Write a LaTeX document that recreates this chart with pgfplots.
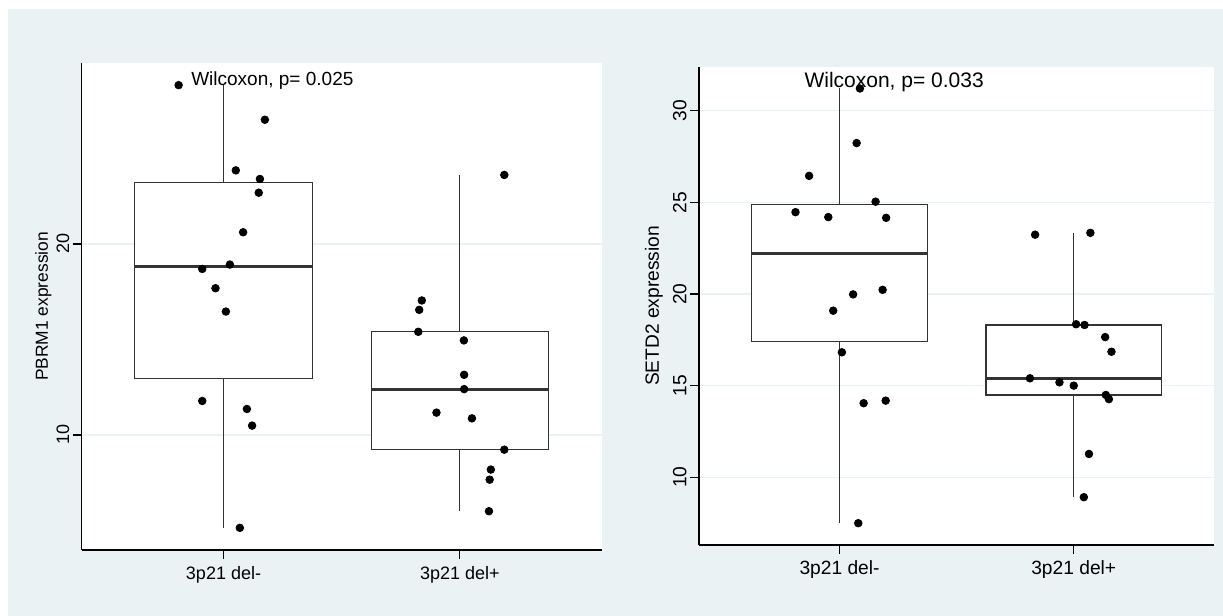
\documentclass[border=0pt]{standalone}
\usepackage{pgfplots}
\pgfplotsset{compat=1.18}
\usepackage{fontspec}
\setmainfont{Liberation Sans}

\definecolor{panelbg}{RGB}{235,242,243}
\definecolor{gridc}{RGB}{235,242,243}
\definecolor{boxc}{RGB}{51,51,51}

% jittered observations: x = group position + jitter, y = expression
\pgfplotstableread{
x      y
0.810  28.31
1.175  26.50
1.052  23.85
1.154  23.40
1.149  22.68
1.083  20.61
1.027  18.92
0.910  18.69
0.966  17.68
1.010  16.46
0.910  11.78
1.099  11.36
1.121  10.49
1.069  5.14
2.188  23.61
1.839  17.04
1.828  16.55
1.824  15.40
2.017  14.95
2.018  13.15
2.018  12.40
1.901  11.17
2.051  10.87
2.188  9.23
2.131  8.19
2.126  7.66
2.123  6.01
}\pbrmpts

\pgfplotstableread{
x      y
1.087  31.22
1.073  28.24
0.870  26.45
1.154  25.04
0.812  24.47
0.952  24.20
1.199  24.16
1.184  20.23
1.058  19.98
0.973  19.09
1.010  16.82
1.103  14.04
1.197  14.18
1.080  7.49
1.835  23.24
2.071  23.34
2.010  18.35
2.046  18.31
2.134  17.65
2.161  16.85
1.813  15.40
1.939  15.18
2.000  15.00
2.137  14.49
2.150  14.26
2.065  11.27
2.043  8.91
}\setdpts

\pgfplotsset{
  panel/.style={
    scale only axis,
    anchor=south west,
    axis lines*=left,
    axis line style={-, black, line width=0.75pt},
    axis background/.style={fill=white},
    xmin=0.4, xmax=2.6,
    xtick={1,2},
    xticklabels={3p21 del-, 3p21 del+},
    ymajorgrids,
    grid style={gridc, line width=0.6pt},
    tick align=outside,
    major tick length=4.5pt,
    tick style={black, line width=0.6pt},
    /pgf/number format/assume math mode=true,
    yticklabel style={rotate=90, anchor=south, inner sep=1.5pt},
    clip=false,
  },
  edge/.style={draw=boxc, line width=0.6pt, mark=none, line join=miter},
  pts/.style={only marks, mark=*, mark size=1.9pt, black},
}

% one box-and-whisker: #1 position, #2 lower whisker, #3 Q1, #4 median, #5 Q3, #6 upper whisker
\newcommand{\boxwhisker}[6]{%
  \addplot[edge] coordinates {(#1,#2) (#1,#3)};
  \addplot[edge] coordinates {(#1,#5) (#1,#6)};
  \addplot[edge, fill=white] coordinates
    {(#1-0.375,#3) (#1+0.375,#3) (#1+0.375,#5) (#1-0.375,#5) (#1-0.375,#3)} -- cycle;
  \addplot[edge, line width=1.45pt] coordinates {(#1-0.375,#4) (#1+0.375,#4)};
}

\begin{document}
\begin{tikzpicture}
\path[use as bounding box, fill=white] (0,0) rectangle (611.5pt,308pt);
\fill[panelbg] (4pt,0) rectangle (611.5pt,303.5pt);

% PBRM1
\begin{axis}[panel,
  at={(40.85pt,33pt)}, width=260pt, height=243.5pt,
  ymin=3.98, ymax=29.47,
  ytick={10,20},
  ticklabel style={font=\fontsize{9}{10}\selectfont},
  ylabel={PBRM1 expression},
  ylabel shift=-2.5pt,
  ylabel style={font=\fontsize{8.7}{10}\selectfont},
]
\boxwhisker{1}{5.14}{12.95}{18.80}{23.22}{28.31}
\boxwhisker{2}{6.01}{9.23}{12.40}{15.40}{23.61}
\addplot[pts] table[x=x, y=y] {\pbrmpts};
\node[anchor=west, inner sep=0pt, font=\fontsize{9.5}{11}\selectfont]
  at (axis cs:0.862,28.57) {Wilcoxon, p= 0.025};
\end{axis}

% SETD2
\begin{axis}[panel,
  at={(349.5pt,35.5pt)}, width=257.65pt, height=239.15pt,
  ymin=6.30, ymax=32.41,
  ytick={10,15,20,25,30},
  ticklabel style={font=\fontsize{9.6}{11}\selectfont},
  ylabel={SETD2 expression},
  ylabel style={font=\fontsize{9.6}{11}\selectfont},
]
\boxwhisker{1}{7.49}{17.39}{22.20}{24.90}{31.22}
\boxwhisker{2}{8.91}{14.49}{15.40}{18.31}{23.34}
\addplot[pts] table[x=x, y=y] {\setdpts};
\node[anchor=west, inner sep=0pt, font=\fontsize{10.5}{12}\selectfont]
  at (axis cs:0.849,31.58) {Wilcoxon, p= 0.033};
\end{axis}
\end{tikzpicture}
\end{document}
